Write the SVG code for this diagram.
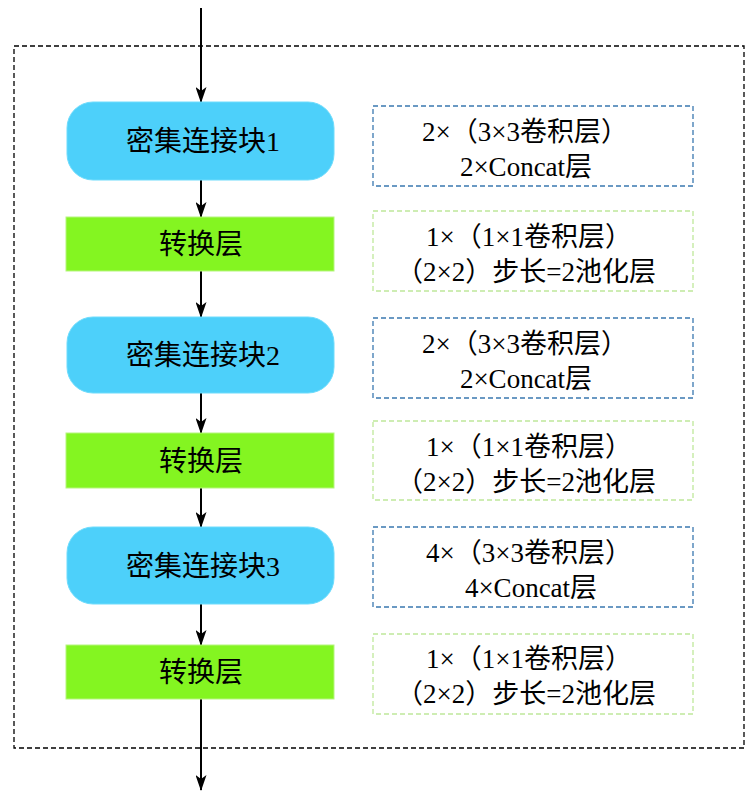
<svg xmlns="http://www.w3.org/2000/svg" width="750" height="802" viewBox="0 0 750 802">
<defs>
<marker id="ah" markerWidth="16" markerHeight="11" refX="15" refY="5.5" orient="auto" markerUnits="userSpaceOnUse" viewBox="0 0 16 11">
<path d="M0,0 L16,5.5 L0,11 L4,5.5 Z" fill="#000"/>
</marker>
</defs>
<style>
.t{font-family:"Liberation Serif","Noto Sans CJK SC",serif;font-size:28px;fill:#000;text-anchor:middle;}
.r{font-family:"Liberation Serif","Noto Sans CJK SC",serif;font-size:27px;fill:#000;text-anchor:middle;}
.blk{fill:#4dd0fa;stroke:#6fdcfc;stroke-width:1;}
.trn{fill:#84f521;stroke:#b6f57f;stroke-width:1;}
.bd{fill:#fff;stroke:#3a78b0;stroke-width:1.3;stroke-dasharray:5,3;}
.gd{fill:#fff;stroke:#bfe89a;stroke-width:1.3;stroke-dasharray:5,3;}
.c{stroke:#000;stroke-width:2;fill:none;marker-end:url(#ah);}
</style>
<rect x="14" y="46" width="730" height="702" fill="none" stroke="#000" stroke-width="1.3" stroke-dasharray="5,3"/>
<g id="connectors">
<line class="c" x1="201" y1="8" x2="201" y2="102"/>
<line class="c" x1="201" y1="180" x2="201" y2="217"/>
<line class="c" x1="201" y1="271" x2="201" y2="317"/>
<line class="c" x1="201" y1="393" x2="201" y2="433"/>
<line class="c" x1="201" y1="488" x2="201" y2="527"/>
<line class="c" x1="201" y1="604" x2="201" y2="645"/>
<line class="c" x1="201" y1="699" x2="201" y2="790"/>
</g>
<g id="block1"><rect class="blk" x="67" y="102" width="267" height="78" rx="26"/><text class="t" x="203" y="151">密集连接块1</text></g>
<g id="trans1"><rect class="trn" x="66" y="217" width="268" height="54"/><text class="t" x="201" y="254">转换层</text></g>
<g id="block2"><rect class="blk" x="67" y="317" width="267" height="76" rx="26"/><text class="t" x="203" y="365">密集连接块2</text></g>
<g id="trans2"><rect class="trn" x="66" y="433" width="268" height="55"/><text class="t" x="201" y="471">转换层</text></g>
<g id="block3"><rect class="blk" x="67" y="527" width="267" height="77" rx="26"/><text class="t" x="203" y="576">密集连接块3</text></g>
<g id="trans3"><rect class="trn" x="66" y="645" width="268" height="54"/><text class="t" x="201" y="682">转换层</text></g>
<g id="desc1"><rect class="bd" x="373" y="106" width="320" height="80"/><text class="r" x="525" y="141">2×（3×3卷积层）</text><text class="r" x="526" y="176">2×Concat层</text></g>
<g id="desc2"><rect class="gd" x="373" y="211" width="320" height="80"/><text class="r" x="529" y="246">1×（1×1卷积层）</text><text class="r" x="526" y="281">（2×2）步长=2池化层</text></g>
<g id="desc3"><rect class="bd" x="373" y="318" width="320" height="80"/><text class="r" x="525" y="353">2×（3×3卷积层）</text><text class="r" x="526" y="388">2×Concat层</text></g>
<g id="desc4"><rect class="gd" x="373" y="421" width="320" height="79"/><text class="r" x="529" y="456">1×（1×1卷积层）</text><text class="r" x="526" y="491">（2×2）步长=2池化层</text></g>
<g id="desc5"><rect class="bd" x="373" y="527" width="320" height="80"/><text class="r" x="529" y="562">4×（3×3卷积层）</text><text class="r" x="531" y="597">4×Concat层</text></g>
<g id="desc6"><rect class="gd" x="373" y="634" width="320" height="80"/><text class="r" x="529" y="668">1×（1×1卷积层）</text><text class="r" x="526" y="703">（2×2）步长=2池化层</text></g>
</svg>
